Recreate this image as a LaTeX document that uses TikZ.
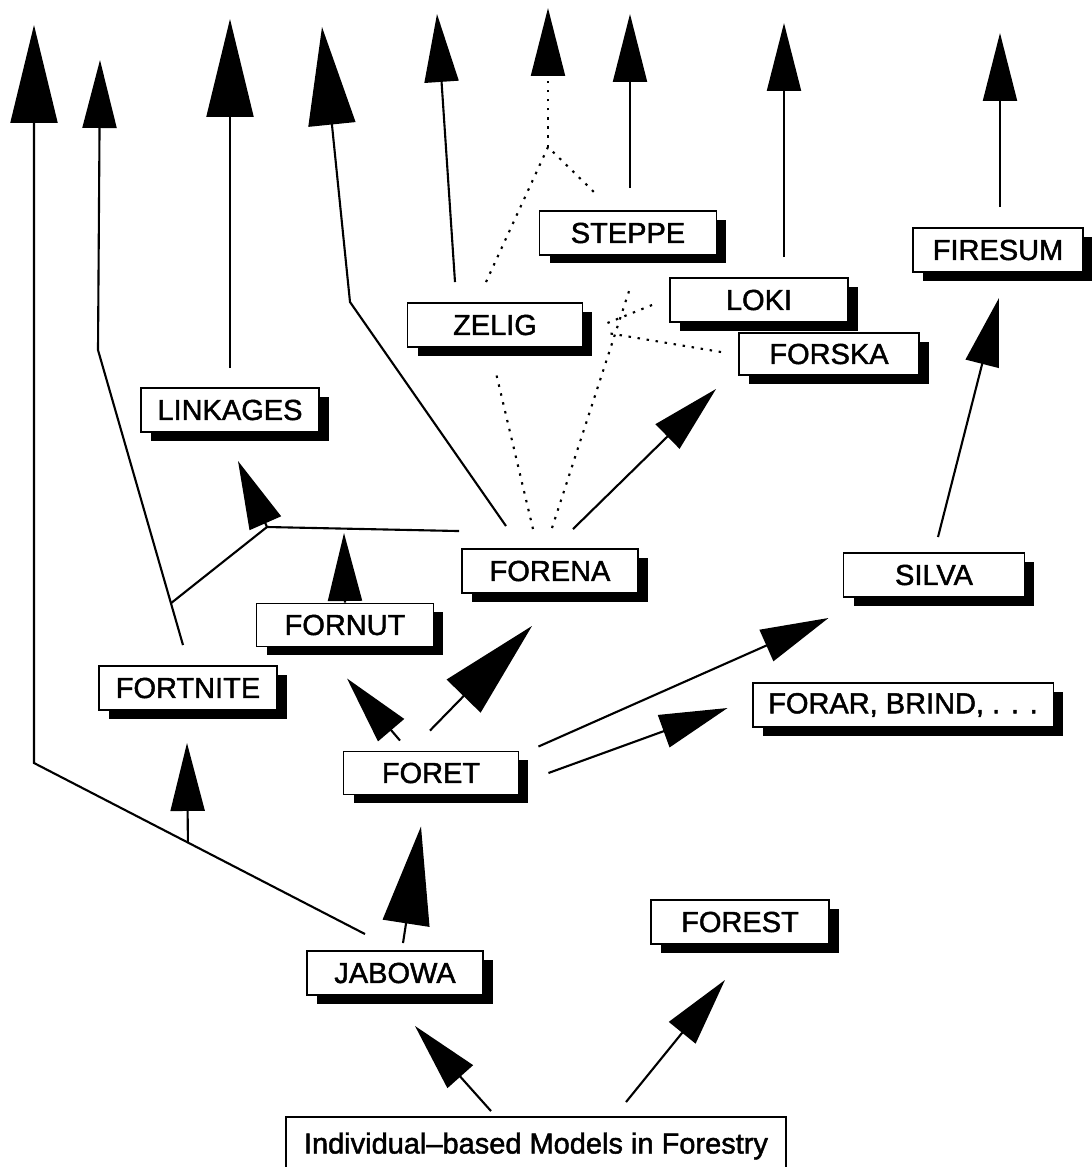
\documentclass[tikz,border=0pt]{standalone}
\usepackage{fontspec}
\setmainfont{Liberation Sans}[RawFeature={embolden=1.6}]
\usepackage{tikz}
\usetikzlibrary{arrows.meta,calc,positioning,shadows}
\newcommand{\boxfont}{\fontsize{16.5}{19}\selectfont}
\tikzset{%
	model/.style      = {draw, rectangle, line width=1.1pt, fill=white, minimum width=3.56cm, minimum height=0.88cm, inner sep=0pt, font=\boxfont, text centered, drop shadow={shadow xshift=0.2cm, shadow yshift=-0.17cm, opacity=1, fill=black}},
	rootbox/.style    = {draw, rectangle, line width=1.1pt, fill=white, minimum width=10cm, minimum height=1.16cm, inner sep=0pt, font=\boxfont},
	link/.style       = {line width=1.2pt},
	dotlink/.style    = {line width=1.2pt, dash pattern=on 1.4pt off 3.8pt},
	bigarrow/.style   = {-{Triangle[length=1.96cm, width=0.94cm]}},
	smallarrow/.style = {-{Triangle[length=1.36cm, width=0.68cm]}},
}

\begin{document}
\begin{tikzpicture}[x=0.02cm, y=-0.02cm]
	\useasboundingbox (0,0) rectangle (1092,1167);
	% models
	\node[model] (linkages) at (230,410) {LINKAGES};
	\node[model, minimum width=3.5cm] (zelig) at (495,325) {ZELIG};
	\node[model, minimum width=3.54cm] (steppe) at (628,233) {STEPPE};
	\node[model] (loki) at (759,300) {LOKI};
	\node[model, minimum width=3.6cm, minimum height=0.84cm] (forska) at (829,354) {FORSKA};
	\node[model, minimum width=3.4cm] (firesum) at (998,250) {FIRESUM};
	\node[model, minimum width=3.52cm] (forena) at (550,571) {FORENA};
	\node[model, minimum width=3.62cm] (silva) at (934,575) {SILVA};
	\node[model, minimum width=3.54cm, minimum height=0.86cm] (fornut) at (345,625) {FORNUT};
	\node[model] (fortnite) at (188,688) {FORTNITE};
	\node[model, minimum width=6.02cm] (forar) at (903,705) {FORAR, BRIND, . . .};
	\node[model, minimum width=3.5cm, minimum height=0.86cm] (foret) at (431,773) {FORET};
	\node[model] (forest) at (740,922) {FOREST};
	\node[model, minimum width=3.52cm] (jabowa) at (395,973) {JABOWA};
	\node[rootbox] (root) at (536,1146) {Individual--based Models in Forestry};
	% bends and junctions
	\coordinate (b1) at (34,763);
	\coordinate (b2) at (98,350);
	\coordinate (b4) at (350,302);
	\coordinate (jL) at (267,527);
	\coordinate (jD) at (548,147);
	\coordinate (s1) at ($(jabowa.north)+(-30,-16)$);
	% lines up to the top
	\draw[link, bigarrow] (s1) -- (b1) -- (34,25);
	\draw[link, smallarrow] ($(fortnite.north)+(-5,-20)$) -- (b2) -- (100,60);
	\draw[link, bigarrow] ([yshift=0.38cm]linkages.north) -- (230,19);
	\draw[link, bigarrow] ($(forena.north)+(-44,-22)$) -- (b4) -- (322,27);
	\draw[link, smallarrow] ($(zelig.north)+(-40,-20)$) -- (437,14);
	\draw[link, smallarrow] ($(steppe.north)+(2,-22)$) -- (630,14);
	\draw[link, smallarrow] ($(loki.north)+(25,-20)$) -- (784,23);
	\draw[link, smallarrow] ($(firesum.north)+(2,-20)$) -- (1000,33);
	% dotted
	\draw[dotlink] ($(zelig.north)+(-9,-20)$) -- (jD) -- ($(steppe.north)+(-34,-18)$);
	\draw[dotlink, smallarrow] (jD) -- (548,8);
	\draw[dotlink] ($(forena.north)+(-17,-19)$) -- ($(zelig.south)+(1,25)$);
	\draw[dotlink] ($(forena.north)+(2,-20)$) -- ($(steppe.south)+(3,29)$);
	\draw[dotlink] ($(loki.west)+(-17,5)$) -- ($(zelig.east)+(24,-2)$);
	\draw[dotlink] ($(forska.west)+(-17,-2)$) -- ($(zelig.east)+(24,8)$);
	% to LINKAGES
	\draw[link] ($(fortnite.north)!0.195!(b2)$) -- (jL);
	\draw[link] ($(forena.north west)+(-2,-17)$) -- (jL);
	\draw[link, smallarrow] (jL) -- (238,461);
	% middle
	\draw[link, smallarrow] ($(forena.north)+(23,-19)$) -- ($(forska.south west)+(-22,13)$);
	\draw[link, smallarrow] ($(silva.north)+(4,-15)$) -- ($(firesum.south)+(1,25)$);
	\draw[link, bigarrow] ($(foret.north)+(-1,-20)$) -- ($(forena.south)+(-18,32)$);
	\draw[link, smallarrow] ($(foret.north)+(-31,-10)$) -- ($(fornut.south)+(2,31)$);
	\draw[link, smallarrow] (fornut.north) -- (344,533);
	\draw[link, smallarrow] ($(foret.north east)+(19,-4)$) -- ($(silva.south west)+(-14,20)$);
	\draw[link, smallarrow] ($(foret.east)+(29,0)$) -- ($(forar.west)+(-24,3)$);
	% bottom
	\draw[link, bigarrow] ($(jabowa.north)+(8,-7)$) -- ($(foret.south)+(-10,31)$);
	\draw[link, smallarrow] ($(s1)!0.535!(b1)$) -- ($(fortnite.south)+(-1,32)$);
	\draw[link, smallarrow] ($(root.north)+(-45,-5)$) -- ($(jabowa.south)+(20,30)$);
	\draw[link, smallarrow] ($(root.north)+(90,-14)$) -- ($(forest.south)+(-15,35)$);
\end{tikzpicture}
\end{document}
